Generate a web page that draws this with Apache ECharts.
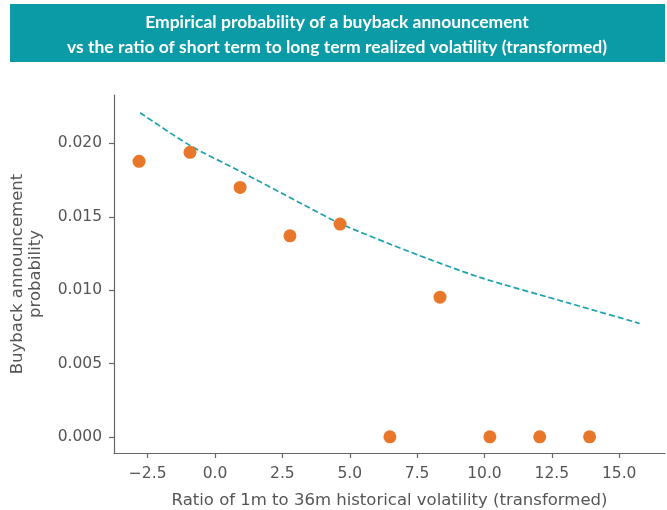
<!DOCTYPE html>
<html>
<head>
<meta charset="utf-8">
<title>Buyback probability vs volatility ratio</title>
<script src="https://cdn.jsdelivr.net/npm/echarts@6/dist/echarts.min.js"></script>
<style>
  html, body { margin: 0; padding: 0; background: #fff; }
  #chart { width: 667px; height: 510px; }
</style>
</head>
<body>
<div id="chart"></div>
<script>
// empirical points (binned)
const binX = [-2.82, -0.93, 0.93, 2.78, 4.64, 6.49, 8.35, 10.2, 12.05, 13.9]
const binProb = [0.01878, 0.01939, 0.0170, 0.01370, 0.01450, 0.0, 0.00952, 0.0, 0.0, 0.0]

// fitted curve
const fitX = [-2.78, -0.93, 0.93, 3.09, 4.64, 7.23, 9.83, 13.17, 15.76]
const fitProb = [0.02209, 0.01986, 0.0181, 0.01601, 0.01454, 0.01261, 0.01087, 0.0091, 0.00773]

const xTicks = [-2.5, 0, 2.5, 5, 7.5, 10, 12.5, 15]
const yTicks = [0, 0.005, 0.01, 0.015, 0.02]

const titleLines = [
  'Empirical probability of a buyback announcement',
  'vs the ratio of short term to long term realized volatility (transformed)'
]

let myChart = echarts.init(document.getElementById('chart'))

const axisGray = '#555555'
const labelFont = '"DejaVu Sans"'

let option = {
  animation: false,
  backgroundColor: '#ffffff',
  graphic: [
    {
      type: 'rect',
      left: 10,
      top: 4,
      shape: { width: 655, height: 58 },
      style: { fill: '#0a9ba6' }
    },
    {
      type: 'text',
      x: 337,
      y: 22,
      style: {
        text: titleLines[0],
        fill: '#ffffff',
        font: 'bold 17.5px Lato',
        textAlign: 'center',
        textVerticalAlign: 'middle'
      }
    },
    {
      type: 'text',
      x: 337,
      y: 47,
      style: {
        text: titleLines[1],
        fill: '#ffffff',
        font: 'bold 17.5px Lato',
        textAlign: 'center',
        textVerticalAlign: 'middle'
      }
    }
  ],
  grid: {
    left: 114,
    right: 2,
    top: 95,
    bottom: 57,
    containLabel: false,
    outerBoundsMode: 'none'
  },
  xAxis: {
    type: 'value',
    min: -3.75,
    max: 16.7,
    name: 'Ratio of 1m to 36m historical volatility (transformed)',
    nameLocation: 'middle',
    nameGap: 39,
    nameTextStyle: { color: axisGray, fontSize: 16.5, fontFamily: labelFont },
    axisLine: { show: true, onZero: false, lineStyle: { color: '#666', width: 1.2 } },
    axisTick: {
      show: true,
      length: 5,
      customValues: xTicks,
      lineStyle: { color: '#666', width: 1.2 }
    },
    axisLabel: {
      customValues: xTicks,
      color: axisGray,
      fontSize: 15.5,
      fontFamily: labelFont,
      margin: 13,
      formatter: function (v) {
        let s = Math.abs(v).toFixed(1)
        return v < 0 ? '\u2212' + s : s
      }
    },
    splitLine: { show: false }
  },
  yAxis: {
    type: 'value',
    min: -0.0011,
    max: 0.0233,
    name: 'Buyback announcement\nprobability',
    nameLocation: 'middle',
    nameGap: 69,
    nameRotate: 90,
    nameTextStyle: { color: axisGray, fontSize: 16.5, fontFamily: labelFont, lineHeight: 18 },
    axisLine: { show: true, onZero: false, lineStyle: { color: '#666', width: 1.2 } },
    axisTick: {
      show: true,
      length: 5,
      customValues: yTicks,
      lineStyle: { color: '#666', width: 1.2 }
    },
    axisLabel: {
      customValues: yTicks,
      color: axisGray,
      fontSize: 15.5,
      fontFamily: labelFont,
      margin: 12,
      formatter: function (v) {
        return v.toFixed(3)
      }
    },
    splitLine: { show: false }
  },
  series: [
    {
      name: 'fit',
      type: 'line',
      data: fitX.map((x, i) => [x, fitProb[i]]),
      smooth: 0.25,
      showSymbol: false,
      lineStyle: { color: '#1aa3ad', width: 1.7, type: [6, 3] },
      z: 2
    },
    {
      name: 'empirical',
      type: 'scatter',
      data: binX.map((x, i) => [x, binProb[i]]),
      symbolSize: 13,
      itemStyle: { color: '#e8772a', opacity: 1 },
      z: 3
    }
  ]
}

myChart.setOption(option)
</script>
</body>
</html>
